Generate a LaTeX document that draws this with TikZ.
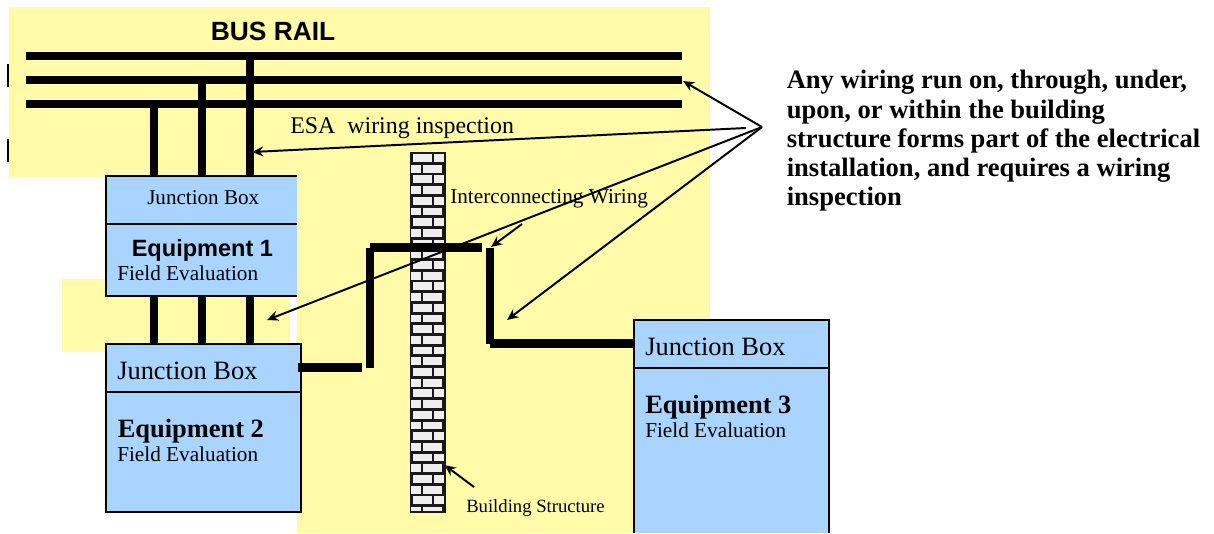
\documentclass[tikz,border=0pt]{standalone}
\usepackage{fontspec}
\setmainfont{Liberation Serif}
\setsansfont{Liberation Sans}
\usetikzlibrary{arrows.meta,calc,positioning}
\definecolor{wallyellow}{HTML}{FFFBA8}
\definecolor{boxblue}{HTML}{A8D4FF}
\definecolor{brickgray}{HTML}{EEEEEE}
\tikzset{
    wire/.style={line width=5.7pt},
    pointer/.style={line width=1.4pt, -{Stealth[length=8pt,width=7pt]}},
    boxfill/.style={fill=boxblue, inner sep=0, anchor=north west},
    boxline/.style={line width=1.4pt},
    serifbig/.style={inner sep=0, anchor=base west, font=\fontsize{18.8}{20}\selectfont},
    serifsmall/.style={inner sep=0, anchor=base west, font=\fontsize{15.1}{17}\selectfont},
}
\begin{document}
\begin{tikzpicture}[x=0.25mm, y=-0.25mm]
    \useasboundingbox (0,0) rectangle (1214,533);
    %%Background
    \fill[wallyellow] (9,7) rectangle (710,177);
    \fill[wallyellow] (297,177) rectangle (710,533);
    \fill[wallyellow] (62,279) rectangle (290,352);
    \fill (6.7,64) rectangle (9,87);
    \fill (6.7,139) rectangle (9,162);
    %%Bus rail
    \foreach \y in {56,80,104}
        \draw[wire] (26,\y) -- (682,\y);
    %%Boxes
    \node[boxfill, minimum width=190.5*0.25mm, minimum height=47.5*0.25mm] (jbox1) at (106,176) {};
    \node[boxfill, minimum width=190.5*0.25mm, minimum height=71.5*0.25mm] (equip1) at (106,223.5) {};
    \node[boxfill, minimum width=194.5*0.25mm, minimum height=47.5*0.25mm] (jbox2) at (106,344) {};
    \node[boxfill, minimum width=194.5*0.25mm, minimum height=119.5*0.25mm] (equip2) at (106,391.5) {};
    \node[boxfill, minimum width=194.5*0.25mm, minimum height=165*0.25mm] (equip3) at (634,367.5) {};
    \node[boxfill, minimum width=194.5*0.25mm, minimum height=47.5*0.25mm] (jbox3) at (634,320) {};
    \draw[boxline] (jbox1.north east) -- (jbox1.north west) -- (equip1.south west) -- (equip1.south east);
    \draw[boxline] (jbox1.south west) -- (jbox1.south east);
    \draw[boxline] (jbox2.north west) rectangle (equip2.south east);
    \draw[boxline] (jbox2.south west) -- (jbox2.south east);
    \draw[boxline] (equip3.south east) -- (jbox3.north east) -- (jbox3.north west) -- (equip3.south west);
    \draw[boxline] (jbox3.south west) -- (jbox3.south east);
    %%Bus drops
    \foreach \x/\y in {154/104,202/80,250/56} {
        \draw[wire] (\x,\y) -- (\x,176);
        \draw[wire] (\x,296) -- (\x,344);
    }
    %%Brick wall
    \fill[black!90] (409.5,151.5) rectangle (445.5,512.5);
    \begin{scope}
        \clip (411,153) rectangle (444,510.5);
        \foreach \i in {0,2,...,32} {
            \fill[brickgray] (412.7,154+10.7*\i) rectangle (431.7,161.8+10.7*\i);
            \fill[brickgray] (434.2,154+10.7*\i) rectangle (444,161.8+10.7*\i);
        }
        \foreach \i in {1,3,...,33} {
            \fill[brickgray] (411,154+10.7*\i) rectangle (420.8,161.8+10.7*\i);
            \fill[brickgray] (423.4,154+10.7*\i) rectangle (442.2,161.8+10.7*\i);
        }
    \end{scope}
    %%Arrows
    \coordinate (apex) at (762,127);
    \coordinate (aesa) at (746,128);
    \draw[pointer] (apex) -- (683,81);
    \draw[pointer] (aesa) -- (252,152);
    \draw[pointer] (apex) -- (267,320);
    \draw[pointer] (apex) -- (507,320);
    \draw[pointer] (522,224) -- (491,247);
    \draw[pointer] (474,487) -- (444.5,465);
    %%Field wiring
    \draw[wire] (298,367.5) -- (362,367.5);
    \draw[wire] (370,248) -- (370,368);
    \draw[wire] (370,247.5) -- (482,247.5);
    \draw[wire] (490,248) -- (490,343.5) ;
    \draw[wire] (490,343.5) -- (jbox3.west |- 490,343.5);
    %%Labels
    \node[inner sep=0, anchor=base west, font=\sffamily\bfseries\fontsize{18.76}{20}\selectfont] (busrail) at (210.5,40) {BUS RAIL};
    \node[serifsmall, font=\fontsize{17}{19}\selectfont] (esa) at (290,133) {ESA\ \ wiring inspection};
    \node[serifsmall] (interconn) at (450,203) {Interconnecting Wiring};
    \node[serifsmall, font=\fontsize{13.27}{15}\selectfont] (building) at (466,512) {Building Structure};
    \node[serifsmall, font=\fontsize{15}{17}\selectfont] (jtext1) at (147,204) {Junction Box};
    \node[inner sep=0, anchor=base west, font=\sffamily\bfseries\fontsize{16.75}{19}\selectfont] (eqtext1) at (131.5,256) {Equipment 1};
    \node[serifsmall] (ftext1) at (117,280) {Field Evaluation};
    \node[serifbig] (jtext2) at (117,379) {Junction Box};
    \node[serifbig, font=\bfseries\fontsize{18.8}{20}\selectfont] (eqtext2) at (117.5,437) {Equipment 2};
    \node[serifsmall] (ftext2) at (117,461) {Field Evaluation};
    \node[serifbig] (jtext3) at (645,355) {Junction Box};
    \node[serifbig, font=\bfseries\fontsize{18.8}{20}\selectfont] (eqtext3) at (645,413) {Equipment 3};
    \node[serifsmall] (ftext3) at (645,437) {Field Evaluation};
    \node[inner sep=0, anchor=north west, align=left, font=\bfseries\fontsize{18.9}{20.85}\selectfont] (note) at (786.5,70) {Any wiring run on, through, under,\\upon, or within the building\\structure forms part of the electrical\\installation, and requires a wiring\\inspection};
\end{tikzpicture}
\end{document}
